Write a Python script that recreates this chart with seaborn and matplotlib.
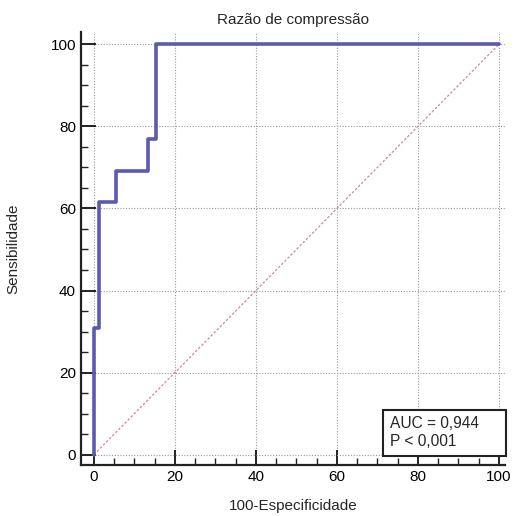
import seaborn as sns
import matplotlib.pyplot as plt
import numpy as np
import pandas as pd
from matplotlib.ticker import MultipleLocator

# ROC curve points (100-specificity, sensitivity)
fpr = [0, 0, 1.3, 1.3, 5.4, 5.4, 13.3, 13.3, 15.4, 15.4, 100]
tpr = [0, 30.8, 30.8, 61.5, 61.5, 69.2, 69.2, 76.9, 76.9, 100, 100]
diag = [0, 100]
auc_text = 'AUC = 0,944     \nP < 0,001'

sns.set_style('ticks')
plt.rcParams['font.family'] = ['Liberation Sans', 'DejaVu Sans']

roc = pd.DataFrame({'x': fpr, 'y': tpr})

fig = plt.figure(figsize=(5.19, 5.16), dpi=100)
ax = fig.add_axes([0.156, 0.099, 0.817, 0.839])

ax.plot(diag, diag, color='#c98a9a', lw=0.9, ls=(0, (2, 1.5)), zorder=2)
sns.lineplot(data=roc, x='x', y='y', ax=ax, sort=False, estimator=None,
             color='#5a5bb0', lw=2.6, zorder=3)

ax.set_xlim(-3.2, 101.5)
ax.set_ylim(-2.5, 103)
ax.xaxis.set_major_locator(MultipleLocator(20))
ax.yaxis.set_major_locator(MultipleLocator(20))
ax.xaxis.set_minor_locator(MultipleLocator(5))
ax.yaxis.set_minor_locator(MultipleLocator(5))
ax.tick_params(which='major', direction='in', length=11, width=1.4, labelsize=11, colors='#222222')
ax.tick_params(which='minor', direction='in', length=5, width=1.0, colors='#222222')
ax.tick_params(axis='both', labelcolor='black')
ax.grid(True, which='major', color='#9a9a9a', ls=(0, (1, 1.5)), lw=0.8)
for s in ['top', 'right']:
    ax.spines[s].set_visible(False)
for s in ['left', 'bottom']:
    ax.spines[s].set_linewidth(1.6)
    ax.spines[s].set_color('#222222')

ax.set_xlabel('100-Especificidade', fontsize=11, labelpad=11)
ax.set_ylabel('Sensibilidade', fontsize=11, labelpad=22)
ax.set_title('Razão de compressão', fontsize=11, pad=6)

ax.text(73.0, 1.3, auc_text, fontsize=11.2, va='bottom', ha='left', linespacing=1.25,
        bbox=dict(boxstyle='square,pad=0.4', fc='white', ec='#222222', lw=1.5), zorder=5)

fig.savefig('out.png', dpi=100)
